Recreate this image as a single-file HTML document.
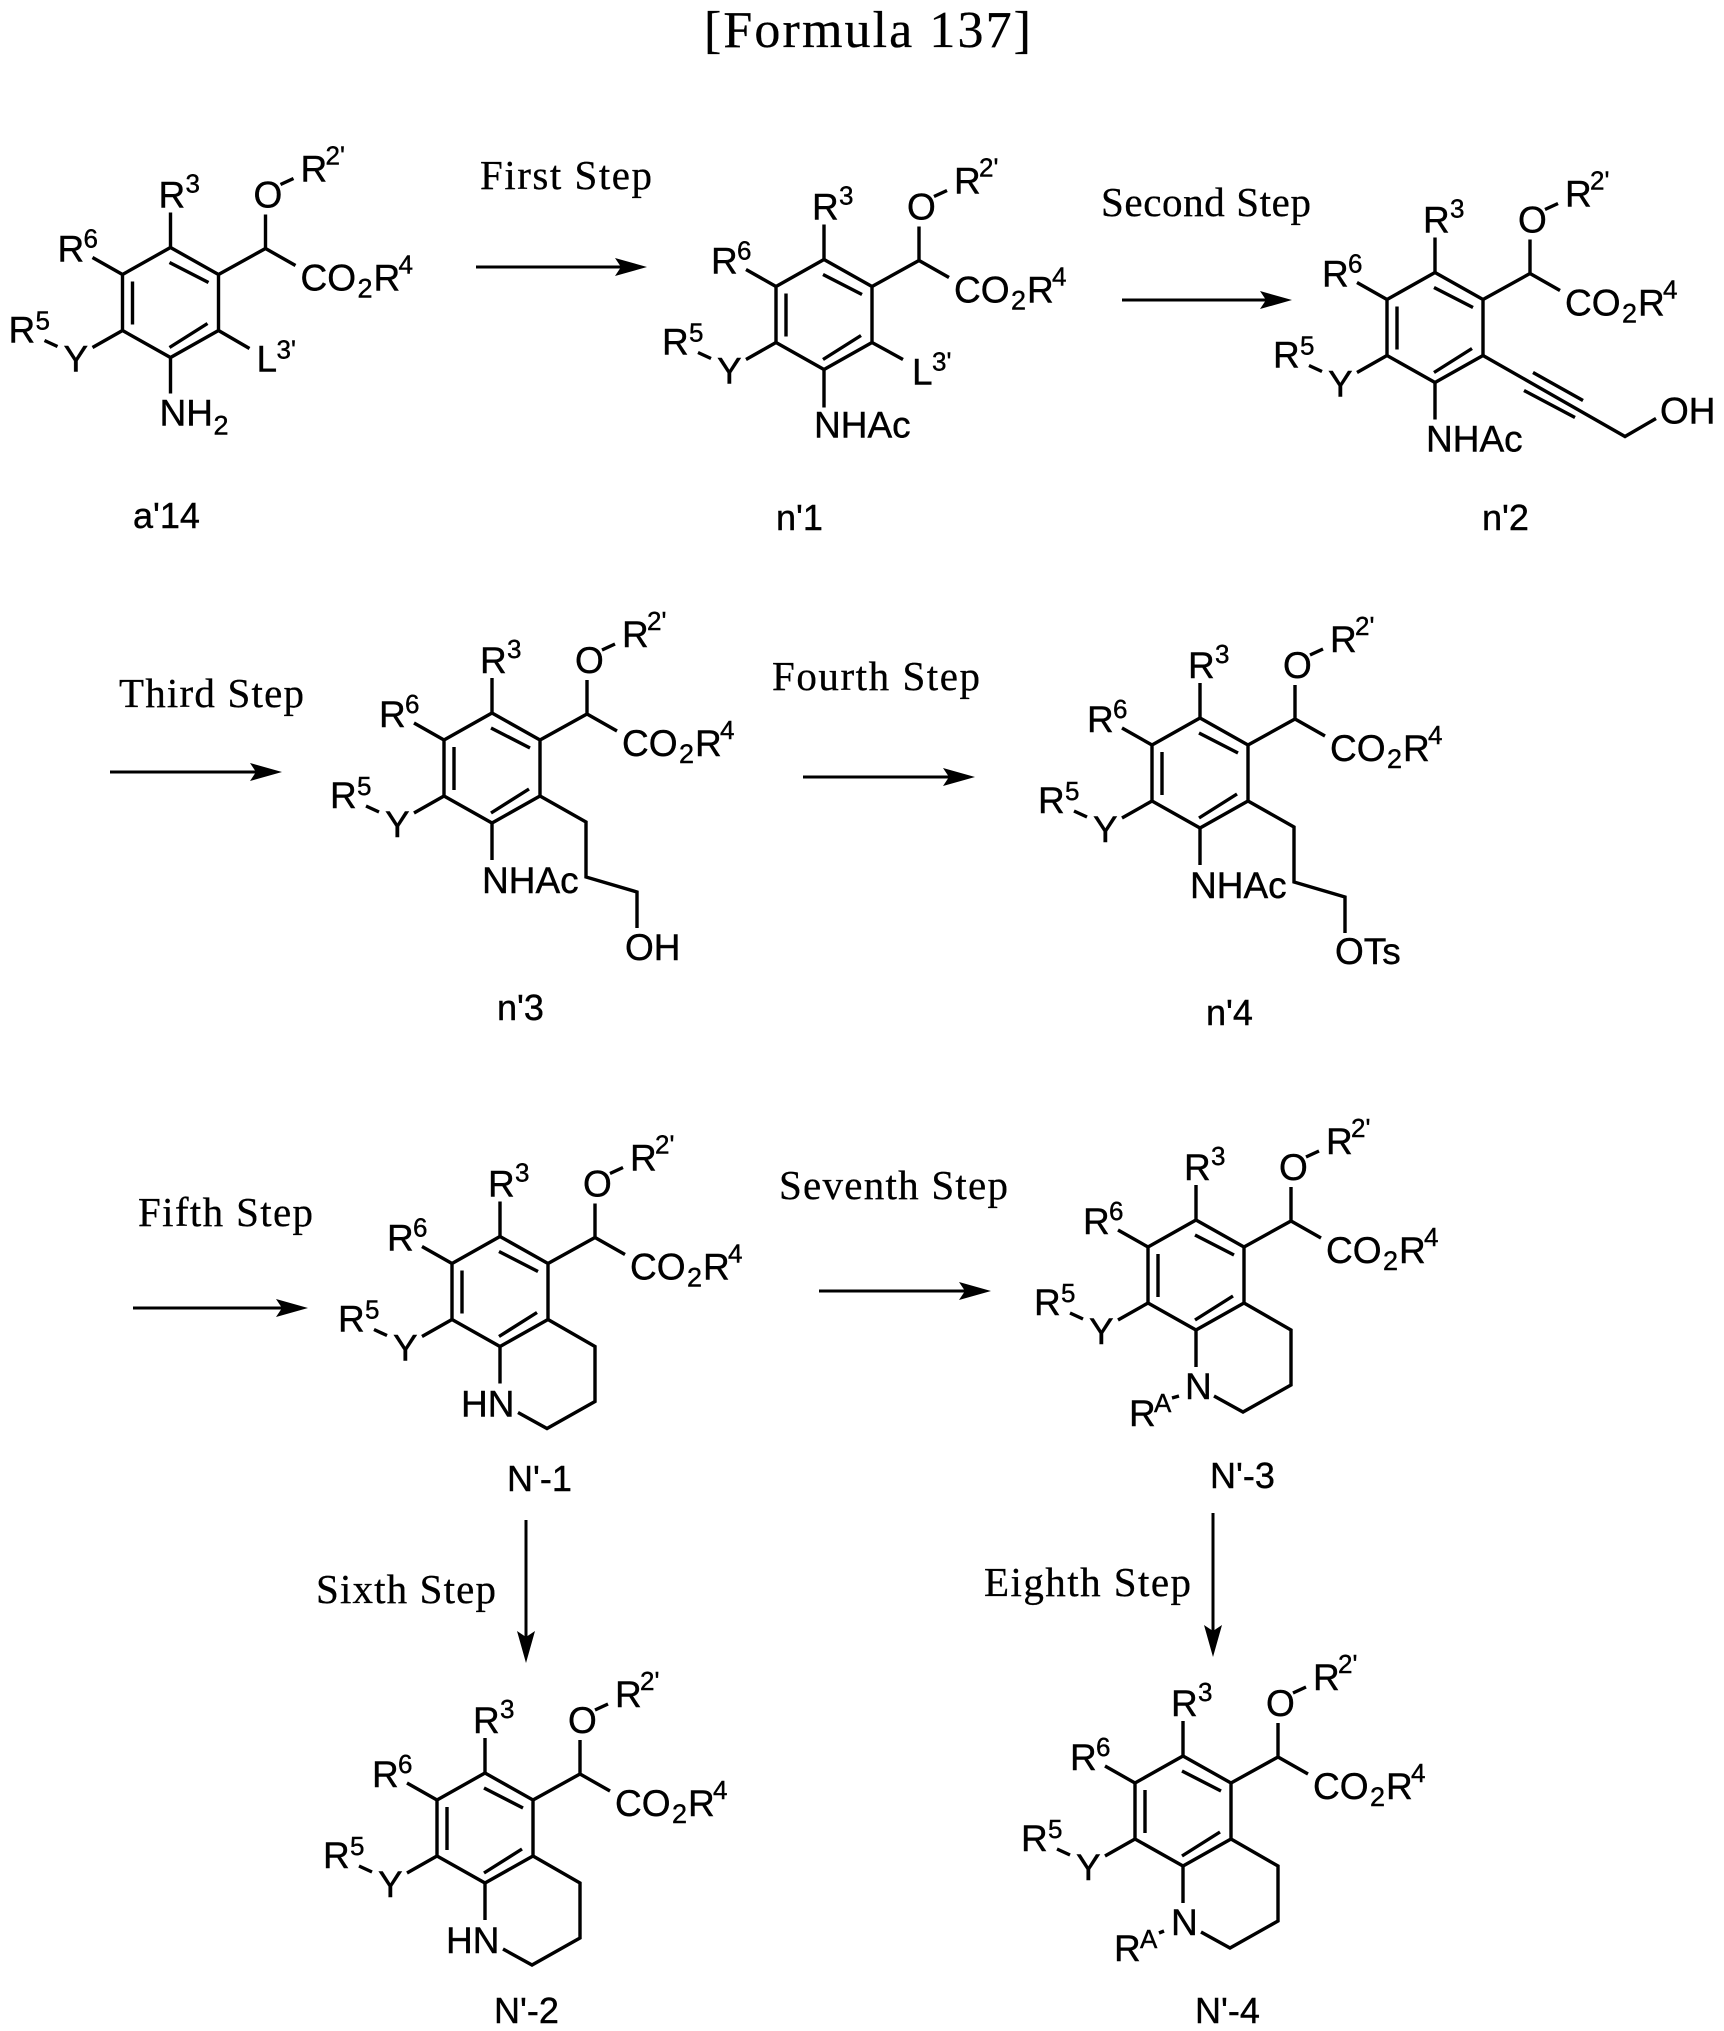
<!DOCTYPE html>
<html><head><meta charset="utf-8"><title>Formula 137</title>
<style>
html,body{margin:0;padding:0;background:#fff;width:1724px;height:2031px;overflow:hidden}
svg{display:block}
text{font-family:"Liberation Sans",sans-serif;font-size:37px;fill:#000;stroke:#000;stroke-width:.4}
text.s{font-size:26px}
text.u{font-size:27px}
text.l{font-size:36px}
text.c{font-family:"Liberation Serif",serif;font-size:41px;stroke-width:.3}
text.f{font-family:"Liberation Serif",serif;font-size:52px;stroke-width:.3}
.b{stroke:#000;stroke-width:3.4;fill:none;stroke-linejoin:miter;stroke-linecap:butt}
.ar{stroke:#000;stroke-width:3;fill:none}
</style></head><body>
<svg xmlns="http://www.w3.org/2000/svg" width="1724" height="2031" viewBox="0 0 1724 2031">
<defs>
<g id="core" class="b">
<path d="M0,-55L48,-28L48,28L0,55L-48,28L-48,-28Z"/>
<path d="M-1,-40L38,-20M-38,-21L-38,22M-1,45L37,21"/>
<path d="M0,-55L0,-90M48,-28L95,-54L125,-37M95,-54L95,-88M110,-118L123,-124M-48,-28L-78,-45M-48,28L-78,45M-126,38L-113,44"/>
</g>
<g id="side" class="b"><path d="M0,55L0,92M48,28L94,54L94,109L145,124L145,160"/></g>
<g id="thq" class="b"><path d="M0,55L0,92M48,28L95,55L95,110L47,137L18,121"/></g>
</defs>

<text class="f" x="704" y="47" textLength="327">[Formula 137]</text>

<!-- a'14 -->
<g transform="translate(170.5,302.5)">
<use href="#core"/>
<path class="b" d="M0,55L0,91M48,28L79,46"/>
<text x="-12" y="-95">R</text><text class="s" x="15" y="-110">3</text>
<text x="83" y="-95">O</text><text x="130" y="-121">R</text><text class="s" x="155" y="-138">2'</text>
<text x="130" y="-12">CO</text><text class="u" x="187" y="-5">2</text><text x="203" y="-12">R</text><text class="s" x="228" y="-29">4</text>
<text x="-113" y="-41">R</text><text class="s" x="-87" y="-55">6</text>
<text x="-162" y="40">R</text><text class="s" x="-135" y="27">5</text>
<text x="-107" y="69">Y</text>
<text x="86" y="69">L</text><text class="s" x="106" y="56">3'</text>
<text x="-11" y="123">NH</text><text class="u" x="43" y="132">2</text>
</g>
<text class="l" x="133" y="528">a'14</text>

<!-- n'1 -->
<g transform="translate(824,314.5)">
<use href="#core"/>
<path class="b" d="M0,55L0,93M48,28L79,45"/>
<text x="-12" y="-95">R</text><text class="s" x="15" y="-110">3</text>
<text x="83" y="-95">O</text><text x="130" y="-121">R</text><text class="s" x="155" y="-138">2'</text>
<text x="130" y="-12">CO</text><text class="u" x="187" y="-5">2</text><text x="203" y="-12">R</text><text class="s" x="228" y="-29">4</text>
<text x="-113" y="-41">R</text><text class="s" x="-87" y="-55">6</text>
<text x="-162" y="40">R</text><text class="s" x="-135" y="27">5</text>
<text x="-107" y="69">Y</text>
<text x="88" y="70">L</text><text class="s" x="108" y="56">3'</text>
<text x="-10" y="123">NHAc</text>
</g>
<text class="l" x="776" y="530">n'1</text>

<!-- n'2 -->
<g transform="translate(1435,327.5)">
<use href="#core"/>
<path class="b" d="M0,55L0,92M48,28L190,109L221,91M98,45L148,73M89,63L140,90"/>
<text x="-12" y="-95">R</text><text class="s" x="15" y="-110">3</text>
<text x="83" y="-95">O</text><text x="130" y="-121">R</text><text class="s" x="155" y="-138">2'</text>
<text x="130" y="-12">CO</text><text class="u" x="187" y="-5">2</text><text x="203" y="-12">R</text><text class="s" x="228" y="-29">4</text>
<text x="-113" y="-41">R</text><text class="s" x="-87" y="-55">6</text>
<text x="-162" y="40">R</text><text class="s" x="-135" y="27">5</text>
<text x="-107" y="69">Y</text>
<text x="-9" y="124">NHAc</text>
<text x="225" y="96">OH</text>
</g>
<text class="l" x="1482" y="530">n'2</text>

<!-- n'3 -->
<g transform="translate(492,768)">
<use href="#core"/><use href="#side"/>
<text x="-12" y="-95">R</text><text class="s" x="15" y="-110">3</text>
<text x="83" y="-95">O</text><text x="130" y="-121">R</text><text class="s" x="155" y="-138">2'</text>
<text x="130" y="-12">CO</text><text class="u" x="187" y="-5">2</text><text x="203" y="-12">R</text><text class="s" x="228" y="-29">4</text>
<text x="-113" y="-41">R</text><text class="s" x="-87" y="-55">6</text>
<text x="-162" y="40">R</text><text class="s" x="-135" y="27">5</text>
<text x="-107" y="69">Y</text>
<text x="-10" y="125">NHAc</text>
<text x="133" y="192">OH</text>
</g>
<text class="l" x="497" y="1020">n'3</text>

<!-- n'4 -->
<g transform="translate(1200,773)">
<use href="#core"/><use href="#side"/>
<text x="-12" y="-95">R</text><text class="s" x="15" y="-110">3</text>
<text x="83" y="-95">O</text><text x="130" y="-121">R</text><text class="s" x="155" y="-138">2'</text>
<text x="130" y="-12">CO</text><text class="u" x="187" y="-5">2</text><text x="203" y="-12">R</text><text class="s" x="228" y="-29">4</text>
<text x="-113" y="-41">R</text><text class="s" x="-87" y="-55">6</text>
<text x="-162" y="40">R</text><text class="s" x="-135" y="27">5</text>
<text x="-107" y="69">Y</text>
<text x="-10" y="125">NHAc</text>
<text x="135" y="191">OTs</text>
</g>
<text class="l" x="1206" y="1025">n'4</text>

<!-- N'-1 -->
<g transform="translate(500,1291.5)">
<use href="#core"/><use href="#thq"/>
<text x="-12" y="-95">R</text><text class="s" x="15" y="-110">3</text>
<text x="83" y="-95">O</text><text x="130" y="-121">R</text><text class="s" x="155" y="-138">2'</text>
<text x="130" y="-12">CO</text><text class="u" x="187" y="-5">2</text><text x="203" y="-12">R</text><text class="s" x="228" y="-29">4</text>
<text x="-113" y="-41">R</text><text class="s" x="-87" y="-55">6</text>
<text x="-162" y="40">R</text><text class="s" x="-135" y="27">5</text>
<text x="-107" y="69">Y</text>
<text x="-39" y="125">HN</text>
</g>
<text class="l" x="507" y="1491">N'-1</text>

<!-- N'-3 -->
<g transform="translate(1196,1275)">
<use href="#core"/><use href="#thq"/>
<path class="b" d="M-24,123L-17,121"/>
<text x="-12" y="-95">R</text><text class="s" x="15" y="-110">3</text>
<text x="83" y="-95">O</text><text x="130" y="-121">R</text><text class="s" x="155" y="-138">2'</text>
<text x="130" y="-12">CO</text><text class="u" x="187" y="-5">2</text><text x="203" y="-12">R</text><text class="s" x="228" y="-29">4</text>
<text x="-113" y="-41">R</text><text class="s" x="-87" y="-55">6</text>
<text x="-162" y="40">R</text><text class="s" x="-135" y="27">5</text>
<text x="-107" y="69">Y</text>
<text x="-11" y="124">N</text>
<text x="-67" y="151">R</text><text class="s" x="-42" y="137">A</text>
</g>
<text class="l" x="1210" y="1488">N'-3</text>

<!-- N'-2 -->
<g transform="translate(485,1828)">
<use href="#core"/><use href="#thq"/>
<text x="-12" y="-95">R</text><text class="s" x="15" y="-110">3</text>
<text x="83" y="-95">O</text><text x="130" y="-121">R</text><text class="s" x="155" y="-138">2'</text>
<text x="130" y="-12">CO</text><text class="u" x="187" y="-5">2</text><text x="203" y="-12">R</text><text class="s" x="228" y="-29">4</text>
<text x="-113" y="-41">R</text><text class="s" x="-87" y="-55">6</text>
<text x="-162" y="40">R</text><text class="s" x="-135" y="27">5</text>
<text x="-107" y="69">Y</text>
<text x="-39" y="125">HN</text>
</g>
<text class="l" x="494" y="2023">N'-2</text>

<!-- N'-4 -->
<g transform="translate(1183,1811)">
<use href="#core"/><use href="#thq"/>
<path class="b" d="M-24,122L-19,120"/>
<text x="-12" y="-95">R</text><text class="s" x="15" y="-110">3</text>
<text x="83" y="-95">O</text><text x="130" y="-121">R</text><text class="s" x="155" y="-138">2'</text>
<text x="130" y="-12">CO</text><text class="u" x="187" y="-5">2</text><text x="203" y="-12">R</text><text class="s" x="228" y="-29">4</text>
<text x="-113" y="-41">R</text><text class="s" x="-87" y="-55">6</text>
<text x="-162" y="40">R</text><text class="s" x="-135" y="27">5</text>
<text x="-107" y="69">Y</text>
<text x="-12" y="124">N</text>
<text x="-69" y="150">R</text><text class="s" x="-43" y="137">A</text>
</g>
<text class="l" x="1195" y="2023">N'-4</text>

<!-- arrows -->
<path class="ar" d="M476,267H630"/><polygon points="647,267 615,258 621,267 615,276"/>
<path class="ar" d="M1122,300H1275"/><polygon points="1292,300 1260,291 1266,300 1260,309"/>
<path class="ar" d="M110,772H265"/><polygon points="282,772 250,763 256,772 250,781"/>
<path class="ar" d="M803,777H958"/><polygon points="975,777 943,768 949,777 943,786"/>
<path class="ar" d="M133,1308H291"/><polygon points="308,1308 276,1299 282,1308 276,1317"/>
<path class="ar" d="M819,1291H974"/><polygon points="991,1291 959,1282 965,1291 959,1300"/>
<path class="ar" d="M526,1520V1646"/><polygon points="526,1663 517,1631 526,1637 535,1631"/>
<path class="ar" d="M1213,1513V1640"/><polygon points="1213,1657 1204,1625 1213,1631 1222,1625"/>

<!-- step labels -->
<text class="c" x="480" y="189" textLength="172">First Step</text>
<text class="c" x="1101" y="216" textLength="210">Second Step</text>
<text class="c" x="119" y="707" textLength="185">Third Step</text>
<text class="c" x="772" y="690" textLength="208">Fourth Step</text>
<text class="c" x="138" y="1226" textLength="175">Fifth Step</text>
<text class="c" x="316" y="1603" textLength="180">Sixth Step</text>
<text class="c" x="779" y="1199" textLength="229">Seventh Step</text>
<text class="c" x="984" y="1596" textLength="207">Eighth Step</text>
</svg>
</body></html>
